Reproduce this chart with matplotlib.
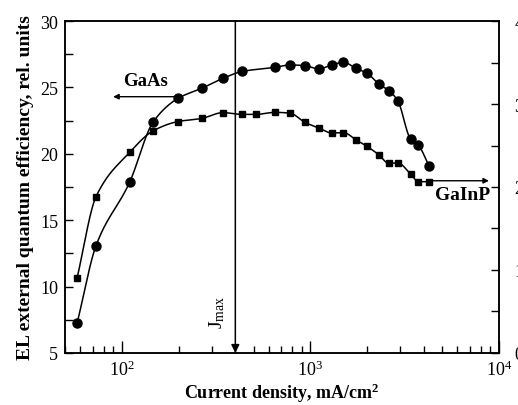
import numpy as np
import matplotlib
matplotlib.use('Agg')
import matplotlib.pyplot as plt
from matplotlib.ticker import MultipleLocator, LogLocator, NullFormatter

plt.rcParams['font.family'] = 'Liberation Serif'
plt.rcParams['mathtext.fontset'] = 'custom'
plt.rcParams['mathtext.rm'] = 'Liberation Serif'
plt.rcParams['mathtext.it'] = 'Liberation Serif:italic'
plt.rcParams['mathtext.bf'] = 'Liberation Serif:bold'

# current density, mA/cm2
j_gaas = [58, 73, 110, 147, 199, 265, 344, 434, 647, 778, 935, 1109, 1297,
          1496, 1750, 1995, 2301, 2603, 2906, 3397, 3734, 4254]
eqe_gaas = [7.26, 13.08, 17.85, 22.42, 24.18, 24.93, 25.68, 26.2, 26.51, 26.69,
            26.64, 26.39, 26.69, 26.89, 26.43, 26.08, 25.26, 24.76, 24.0, 21.11,
            20.66, 19.1]

j_gainp = [58, 73, 110, 147, 199, 265, 344, 434, 516, 647, 778, 935, 1109,
           1297, 1496, 1750, 1995, 2301, 2603, 2906, 3397, 3734, 4254]
eqe_gainp = [0.907, 1.883, 2.416, 2.678, 2.789, 2.826, 2.896, 2.875, 2.875,
             2.899, 2.891, 2.779, 2.710, 2.651, 2.656, 2.566, 2.490, 2.389,
             2.285, 2.290, 2.157, 2.064, 2.064]

j_max = 400


def smooth(xs, ys, n=25):
    # monotone cubic (pchip) through the points, in log-x
    x = np.log10(xs)
    y = np.asarray(ys, float)
    h = np.diff(x)
    d = np.diff(y) / h
    m = np.zeros(len(x))
    for i in range(1, len(x)-1):
        if d[i-1]*d[i] > 0:
            w1 = 2*h[i] + h[i-1]
            w2 = h[i] + 2*h[i-1]
            m[i] = (w1 + w2) / (w1/d[i-1] + w2/d[i])
    m[0], m[-1] = d[0], d[-1]
    ox, oy = [], []
    for i in range(len(x)-1):
        t = np.linspace(0, 1, n, endpoint=False)
        h00 = 2*t**3 - 3*t**2 + 1
        h10 = t**3 - 2*t**2 + t
        h01 = -2*t**3 + 3*t**2
        h11 = t**3 - t**2
        s = h00*y[i] + h10*h[i]*m[i] + h01*y[i+1] + h11*h[i]*m[i+1]
        ox.extend(x[i] + t*h[i]); oy.extend(s)
    ox.append(x[-1]); oy.append(y[-1])
    return 10**np.array(ox), np.array(oy)


fig = plt.figure(figsize=(5.18, 4.06), dpi=100)
ax = fig.add_axes([0.1255, 0.1281, 0.8378, 0.8177])
ax2 = ax.twinx()

sx, sy = smooth(j_gaas, eqe_gaas)
ax.plot(sx, sy, color='black', lw=1.1)
ax.plot(j_gaas, eqe_gaas, 'o', color='black', ms=6.5)

sx, sy = smooth(j_gainp, eqe_gainp)
ax2.plot(sx, sy, color='black', lw=1.1)
ax2.plot(j_gainp, eqe_gainp, 's', color='black', ms=5)

ax.set_xscale('log')
ax.set_xlim(50, 1e4)
ax.set_ylim(5, 30)
ax2.set_ylim(0, 4)

ax.yaxis.set_major_locator(MultipleLocator(5))
ax.yaxis.set_minor_locator(MultipleLocator(2.5))
ax2.yaxis.set_major_locator(MultipleLocator(1))
ax2.yaxis.set_minor_locator(MultipleLocator(0.5))
ax.xaxis.set_major_locator(LogLocator(base=10, numticks=10))
ax.xaxis.set_minor_locator(LogLocator(base=10, subs=np.arange(2, 10), numticks=10))
ax.xaxis.set_minor_formatter(NullFormatter())

ax.tick_params(axis='x', which='major', direction='in', length=9, width=1, labelsize=13, pad=5, top=False)
ax.tick_params(axis='x', which='minor', direction='in', length=5, width=1, top=False)
ax.tick_params(axis='y', which='both', direction='in', length=6, width=1, labelsize=13, pad=5, right=False)
ax2.tick_params(axis='y', which='both', direction='in', length=6, width=1, labelsize=13, pad=11)
for a in (ax, ax2):
    for s in a.spines.values():
        s.set_linewidth(1.1)

ax.set_xlabel('Current density, mA/cm$^\\mathbf{2}$', fontsize=13, fontweight='bold', labelpad=1)
ax.set_ylabel('EL external quantum efficiency, rel. units', fontsize=14, fontweight='bold', labelpad=4)

# J_max marker
ax.annotate('', xy=(j_max, 5), xytext=(j_max, 30),
            arrowprops=dict(arrowstyle='-|>', color='black', lw=1.1,
                            mutation_scale=12, shrinkA=0, shrinkB=0))
ax.text(j_max*0.9, 8.1, '$\\mathregular{J_{max}}$', rotation=90, fontsize=14,
        ha='right', va='center')

# series labels
ax.text(134, 25.5, 'GaAs', fontsize=13.5, fontweight='bold', ha='center', va='center')
ax.annotate('', xy=(90, 24.3), xytext=(201, 24.3),
            arrowprops=dict(arrowstyle='-|>', color='black', lw=1,
                            mutation_scale=8, shrinkA=0, shrinkB=0))
ax.text(6400, 16.95, 'GaInP', fontsize=14, fontweight='bold', ha='center', va='center')
ax.annotate('', xy=(8850, 17.97), xytext=(4335, 17.97),
            arrowprops=dict(arrowstyle='-|>', color='black', lw=1,
                            mutation_scale=8, shrinkA=0, shrinkB=0))

fig.savefig('out.png', dpi=100)
